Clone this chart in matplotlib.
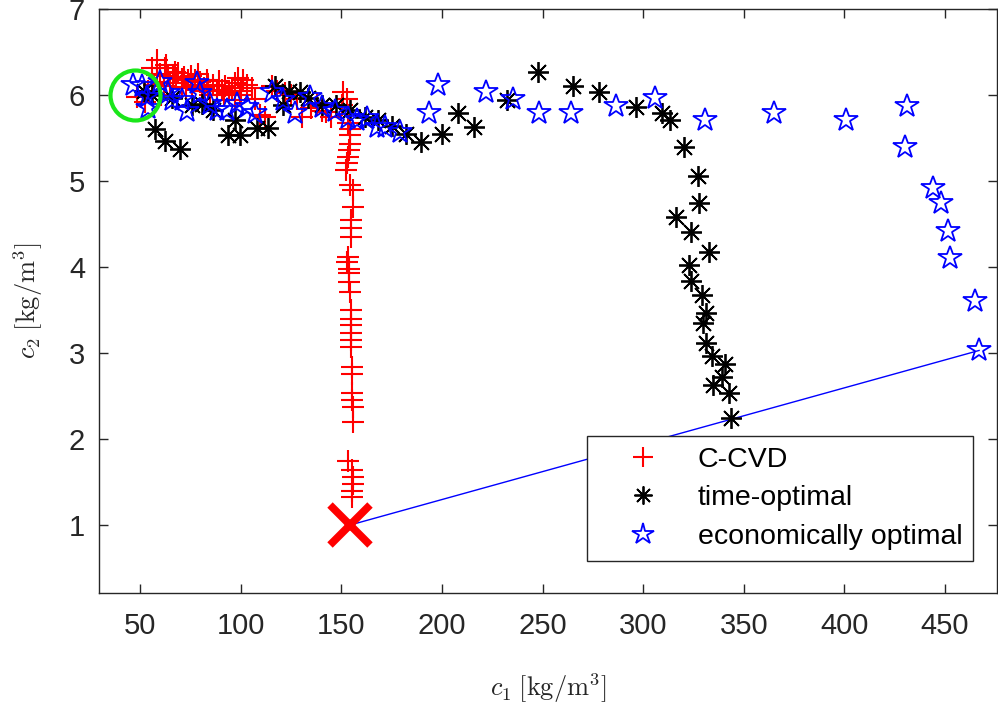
import matplotlib
matplotlib.use("Agg")
import matplotlib.pyplot as plt

plt.rcParams['font.family'] = ['Liberation Sans', 'DejaVu Sans']
plt.rcParams['mathtext.fontset'] = 'cm'

# ---- data ----
ccvd_x = [58.3, 58.3, 55.8, 62.4, 66.5, 70.7, 74.0, 77.3, 48.3, 52.5, 84.0, 90.6, 97.2, 99.7,
          101.3, 105.5, 97.2, 115.4, 122.0, 130.3, 140.3, 151.0, 150.2, 153.5, 60.0, 64.0,
          68.0, 72.0, 76.0, 80.0, 82.0, 86.0, 88.0, 92.0, 94.0, 62.0, 56.0, 109.6, 112.0,
          125.0, 128.0, 135.0, 145.0, 118.0, 103.0, 79.0, 69.0, 54.0, 60.5, 71.0, 85.0,
          100.0, 153.0, 154.5, 65.0, 67.5, 73.0, 75.5, 81.0, 83.5, 89.0, 91.5, 95.5, 98.5,
          57.0, 63.0, 107.0, 138.0, 142.5]
ccvd_y = [6.41, 6.23, 6.31, 6.31, 6.21, 6.19, 6.17, 6.17, 5.98, 5.92, 6.10, 6.06, 6.14, 6.00,
          6.17, 6.08, 5.94, 6.10, 6.02, 5.75, 5.81, 6.04, 5.88, 5.67, 6.25, 6.22, 6.20, 6.21,
          6.12, 6.15, 6.08, 6.12, 6.05, 6.10, 6.02, 6.10, 6.15, 5.77, 5.75, 6.00, 5.95, 5.85,
          5.75, 6.05, 6.12, 6.24, 6.26, 6.05, 6.00, 6.08, 6.00, 6.05, 5.95, 5.60, 6.14, 6.27,
          6.09, 6.22, 6.05, 6.18, 6.16, 6.00, 6.08, 6.20, 6.12, 6.35, 5.95, 5.90, 5.80]
ccvd_vx = [154.3, 154.3, 154.0, 153.5, 152.7, 152.4, 154.3, 155.8, 155.7, 154.7, 154.7, 154.7,
           153.5, 153.0, 154.0, 154.0, 154.0, 154.3, 154.7, 154.7, 154.7, 154.7, 154.7, 154.7,
           155.2, 155.2, 155.2, 155.2, 155.7, 155.7, 153.5, 155.2, 155.7, 155.7, 155.2, 155.2]
ccvd_vy = [5.53, 5.43, 5.36, 5.28, 5.21, 5.13, 4.95, 4.90, 4.70, 4.55, 4.45, 4.35, 4.12, 4.06,
           3.98, 3.93, 3.83, 3.71, 3.50, 3.40, 3.33, 3.23, 3.15, 3.07, 2.84, 2.76, 2.53, 2.45,
           2.37, 2.20, 1.74, 1.64, 1.56, 1.48, 1.40, 1.33]

time_x = [343.7, 342.8, 334.9, 339.0, 340.7, 334.1, 331.2, 329.6, 331.2, 329.4, 323.6, 323.0,
          332.7, 323.8, 316.3, 327.9, 327.4, 320.5, 313.4, 309.2, 296.3, 278.2, 264.9, 247.9,
          232.5, 216.1, 207.9, 200.2, 189.6, 182.2, 175.0, 168.4, 161.8, 154.3, 147.3, 140.3,
          133.6, 129.5, 124.0, 121.0, 117.1, 113.8, 108.0, 99.7, 97.2, 93.9, 86.4, 80.7, 75.7,
          69.9, 65.7, 62.4, 57.5, 55.8, 52.0]
time_y = [2.24, 2.54, 2.63, 2.72, 2.87, 2.96, 3.12, 3.35, 3.46, 3.67, 3.84, 4.02, 4.17, 4.41,
          4.58, 4.74, 5.06, 5.39, 5.71, 5.79, 5.86, 6.03, 6.11, 6.27, 5.94, 5.63, 5.79, 5.55,
          5.45, 5.55, 5.64, 5.71, 5.75, 5.82, 5.88, 5.88, 5.96, 6.04, 6.05, 5.88, 6.10, 5.62,
          5.62, 5.54, 5.71, 5.53, 5.83, 5.90, 5.88, 5.37, 5.96, 5.47, 5.61, 6.00, 6.05]

econ_x = [466.9, 464.9, 452.2, 451.3, 448.0, 444.2, 430.1, 431.0, 400.8, 365.0, 330.7, 305.9,
          286.5, 263.9, 248.4, 235.2, 221.9, 198.2, 193.8, 179.2, 171.7, 167.6, 162.6, 157.6,
          153.5, 146.9, 140.3, 134.5, 127.0, 121.2, 115.4, 107.1, 103.0, 98.0, 93.0, 88.1,
          84.8, 79.8, 78.2, 73.2, 70.7, 65.7, 64.1, 59.9, 54.1, 53.3, 50.8, 46.7]
econ_y = [3.03, 3.60, 4.10, 4.42, 4.74, 4.92, 5.40, 5.87, 5.71, 5.79, 5.71, 5.96, 5.87, 5.79,
          5.79, 5.95, 6.03, 6.12, 5.79, 5.57, 5.63, 5.63, 5.73, 5.71, 5.73, 5.81, 5.86, 5.98,
          5.79, 5.94, 6.04, 5.79, 5.86, 5.90, 5.83, 5.83, 5.90, 6.02, 6.14, 5.81, 5.94, 5.94,
          6.02, 6.15, 5.85, 5.98, 6.10, 6.12]

start_pt = (154.3, 1.0)
target_pt = (47.5, 6.0)
first_econ = (466.9, 3.03)

# ---- figure ----
fig = plt.figure(figsize=(9.98, 7.08), dpi=100)
ax = fig.add_axes([0.0992, 0.1624, 0.8998, 0.8249])

dark = (0.15, 0.15, 0.15)

ax.plot([start_pt[0], first_econ[0]], [start_pt[1], first_econ[1]], color='blue', lw=1.0, zorder=2)

h1, = ax.plot(ccvd_x + ccvd_vx, ccvd_y + ccvd_vy, linestyle='none', marker='+', ms=15.5,
              mew=1.5, color='red', label='C-CVD', zorder=3)
h2, = ax.plot(time_x, time_y, linestyle='none', marker=(8, 2, 0), ms=15, mew=1.3,
              color='black', label='time-optimal', zorder=4)
h3, = ax.plot(econ_x, econ_y, linestyle='none', marker='*', ms=17.5, mew=1.3,
              markerfacecolor='none', markeredgecolor='blue', label='economically optimal', zorder=5)

ax.plot([start_pt[0]], [start_pt[1]], linestyle='none', marker='x', ms=29, mew=5.5,
        color='red', zorder=6)
ax.plot([target_pt[0]], [target_pt[1]], linestyle='none', marker='o', ms=36, mew=3,
        markerfacecolor='none', markeredgecolor=(0.1, 0.9, 0.1), zorder=7)

ax.set_xlim(29.6, 475.8)
ax.set_ylim(0.21, 7.0)
ax.set_xticks([50, 100, 150, 200, 250, 300, 350, 400, 450])
ax.set_yticks([1, 2, 3, 4, 5, 6, 7])

ax.tick_params(direction='in', length=6.5, width=1, colors=dark, labelsize=21,
               top=True, right=True)
ax.tick_params(axis='x', pad=14)
ax.tick_params(axis='y', pad=10)
for s in ax.spines.values():
    s.set_color(dark)
    s.set_linewidth(1)

ax.set_xlabel(r'$c_1\;[\mathrm{kg/m}^3]$', fontsize=19, color=dark)
ax.set_ylabel(r'$c_2\;[\mathrm{kg/m}^3]$', fontsize=19, color=dark)
ax.xaxis.set_label_coords(0.5, -0.163)
ax.xaxis.label.set_va('center')
ax.yaxis.set_label_coords(-0.0785, 0.5)
ax.yaxis.label.set_va('center')

leg = ax.legend(handles=[h1, h2, h3], loc='lower right', bbox_to_anchor=(0.9733, 0.0548),
                borderaxespad=0, fontsize=20.5, fancybox=False, framealpha=1,
                edgecolor=dark, handlelength=3.16, handletextpad=0.35, labelspacing=0.45,
                borderpad=0.38)
leg.get_frame().set_linewidth(1)
leg.legend_handles[0].set_markersize(14)
leg.legend_handles[1].set_markersize(13)
leg.legend_handles[2].set_markersize(16)

fig.savefig('out.png', dpi=100)
